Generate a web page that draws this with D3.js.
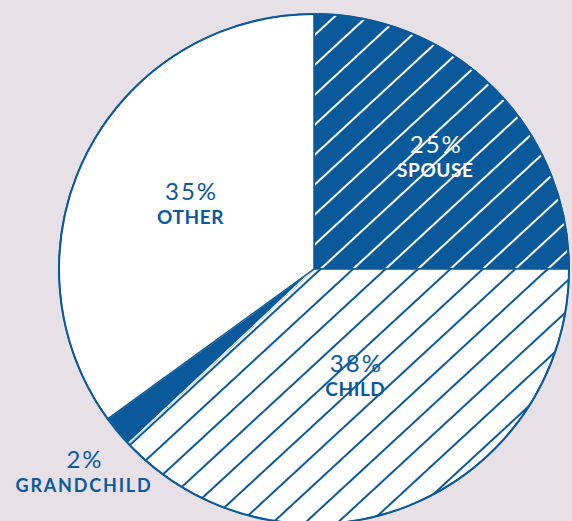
<!DOCTYPE html>
<html>
<head>
<meta charset="utf-8">
<script src="https://cdn.jsdelivr.net/npm/d3@7"></script>
<style>
  body { margin: 0; background: #e7e0e7; }
  svg { display: block; }
  text { font-family: Lato, "Open Sans", sans-serif; }
</style>
</head>
<body>
<div id="pie"></div>
<script>
// data
var categories = ["SPOUSE", "CHILD", "GRANDCHILD", "OTHER"];
var shares = [25, 38, 2, 35];

var width = 572;
var height = 521;
var cx = 314, cy = 269;
var radius = 255;
var blue = "#0a5a9b";

var svg = d3.select("#pie")
  .append("svg")
  .attr("width", width)
  .attr("height", height);

svg.append("rect")
  .attr("width", width)
  .attr("height", height)
  .attr("fill", "#e7e0e7");

// hatch patterns, same phase for both so the lines run on across slices
var defs = svg.append("defs");
var gap = 22;
function hatch(id, bg, fg) {
  var p = defs.append("pattern")
    .attr("id", id)
    .attr("patternUnits", "userSpaceOnUse")
    .attr("width", 40)
    .attr("height", gap)
    .attr("patternTransform", "translate(316,252) rotate(-42.7)");
  p.append("rect").attr("width", 40).attr("height", gap).attr("fill", bg);
  p.append("line")
    .attr("x1", 0).attr("x2", 40)
    .attr("y1", 0).attr("y2", 0)
    .attr("stroke", fg)
    .attr("stroke-width", 4);
}
hatch("hatchDark", blue, "#ffffff");
hatch("hatchLight", "#ffffff", blue);

var fills = {
  "SPOUSE": "url(#hatchDark)",
  "CHILD": "url(#hatchLight)",
  "GRANDCHILD": blue,
  "OTHER": "#ffffff"
};

var data = categories.map(function(c, i) { return { name: c, value: shares[i] }; });

var pie = d3.pie().sort(null).value(function(d) { return d.value; });
var arcs = pie(data);

var arc = d3.arc().innerRadius(0).outerRadius(radius);

var g = svg.append("g").attr("transform", "translate(" + cx + "," + cy + ")");

g.selectAll("path.slice")
  .data(arcs)
  .enter()
  .append("path")
  .attr("class", "slice")
  .attr("d", arc)
  .attr("fill", function(d) { return fills[d.data.name]; })
  .attr("stroke", function(d) { return d.data.name == "GRANDCHILD" ? "#ffffff" : blue; })
  .attr("stroke-width", function(d) { return d.data.name == "GRANDCHILD" ? 1.2 : 1.5; });

// outline
g.append("circle")
  .attr("r", radius)
  .attr("fill", "none")
  .attr("stroke", blue)
  .attr("stroke-width", 2);

// labels: polar position, radius and a small turn off the mid angle
var labelRadius = { "SPOUSE": 160, "CHILD": 122, "GRANDCHILD": 312, "OTHER": 136 };
var labelTurn = { "SPOUSE": 4.3, "CHILD": 1.8, "GRANDCHILD": -2.9, "OTHER": -2.2 };
var textColor = { "SPOUSE": "#ffffff", "CHILD": blue, "GRANDCHILD": blue, "OTHER": blue };

var labels = g.selectAll("g.label")
  .data(arcs)
  .enter()
  .append("g")
  .attr("class", "label")
  .attr("transform", function(d) {
    var a = (d.startAngle + d.endAngle) / 2 + labelTurn[d.data.name] * Math.PI / 180;
    var r = labelRadius[d.data.name];
    return "translate(" + (Math.sin(a) * r) + "," + (-Math.cos(a) * r) + ")";
  });

labels.append("text")
  .attr("text-anchor", "middle")
  .attr("x", 1)
  .attr("y", -12)
  .attr("font-size", 24)
  .attr("font-weight", 400)
  .attr("letter-spacing", 2)
  .attr("fill", function(d) { return textColor[d.data.name]; })
  .text(function(d) { return d.data.value + "%"; });

labels.append("text")
  .attr("text-anchor", "middle")
  .attr("y", 12)
  .attr("font-size", function(d) { return d.data.name == "GRANDCHILD" ? 18 : 19; })
  .attr("font-weight", "bold")
  .attr("letter-spacing", function(d) { return d.data.name == "GRANDCHILD" ? 1.8 : 0.6; })
  .attr("fill", function(d) { return textColor[d.data.name]; })
  .text(function(d) { return d.data.name; });
</script>
</body>
</html>
